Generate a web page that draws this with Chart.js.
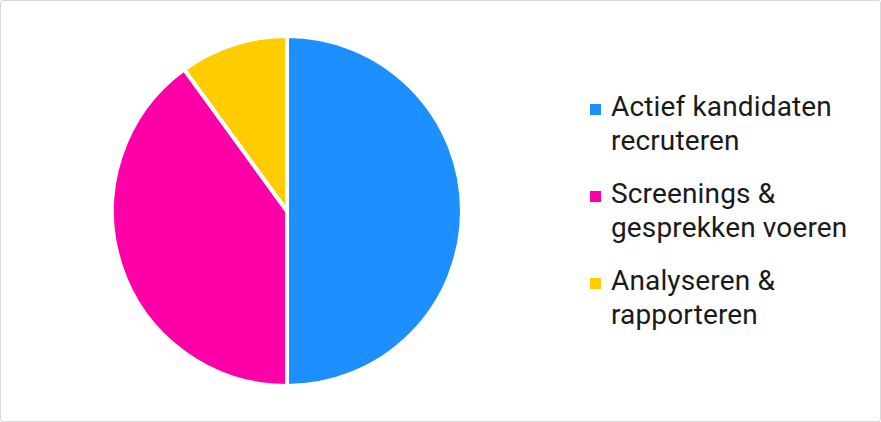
<!DOCTYPE html>
<html>
<head>
<meta charset="utf-8">
<script src="https://cdn.jsdelivr.net/npm/chart.js@4"></script>
<style>
  html, body { margin:0; padding:0; background:#fff; }
  #frame { position:absolute; left:0; top:0; width:879px; height:420px; border:1px solid #d9d9d9; border-radius:3px; background:#fff; overflow:hidden; }
  #pieBox { position:absolute; left:0; top:0; width:572px; height:420px; }
  #legend { position:absolute; left:589px; top:89px; font-family: Roboto, "Noto Sans", sans-serif; font-size:28px; letter-spacing:0.15px; color:#1a1a1a; }
  .item { position:relative; padding-left:21px; line-height:34px; margin-bottom:19px; white-space:nowrap; }
  .sw { position:absolute; left:0; top:14px; width:11px; height:11px; }
</style>
</head>
<body>
<div id="frame">
  <div id="pieBox"><canvas id="c"></canvas></div>
  <div id="legend"></div>
</div>
<script>
const categories = [
  ["Actief kandidaten", "recruteren"],
  ["Screenings &", "gesprekken voeren"],
  ["Analyseren &", "rapporteren"]
];
const values = [50, 40, 10];
const colors = ["#1E8FFF", "#FF00A8", "#FFCC00"];

const legend = document.getElementById('legend');
categories.forEach((lines, i) => {
  const d = document.createElement('div');
  d.className = 'item';
  const s = document.createElement('span');
  s.className = 'sw';
  s.style.background = colors[i];
  d.appendChild(s);
  lines.forEach((t, j) => {
    if (j) d.appendChild(document.createElement('br'));
    d.appendChild(document.createTextNode(t));
  });
  legend.appendChild(d);
});

new Chart(document.getElementById('c'), {
  type: 'pie',
  data: {
    labels: categories.map(l => l.join(' ')),
    datasets: [{
      data: values,
      backgroundColor: colors,
      borderColor: '#ffffff',
      borderWidth: 4,
      hoverOffset: 0
    }]
  },
  options: {
    responsive: true,
    maintainAspectRatio: false,
    animation: false,
    layout: { padding: { top: 33, bottom: 33 } },
    plugins: { legend: { display: false }, tooltip: { enabled: false } }
  }
});
</script>
</body>
</html>
